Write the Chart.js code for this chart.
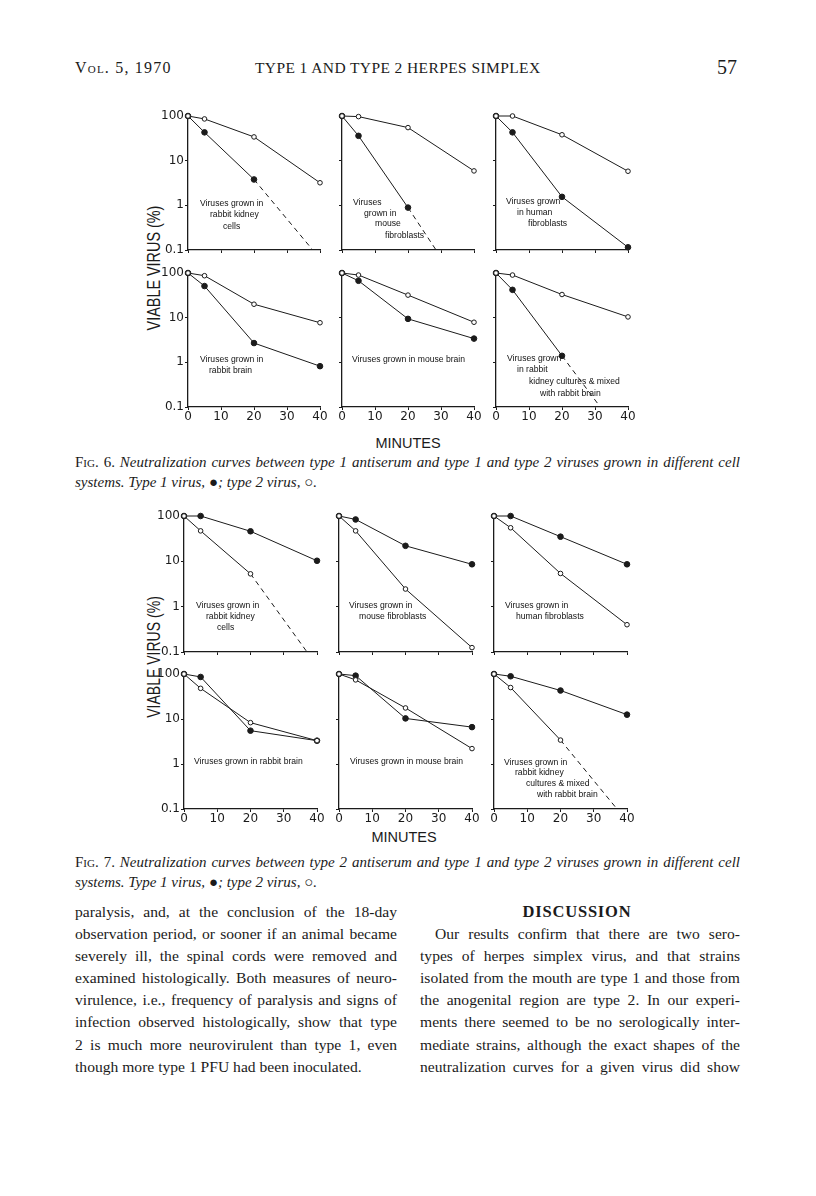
<!DOCTYPE html>
<html>
<head>
<meta charset="utf-8">
<script src="https://cdn.jsdelivr.net/npm/chart.js@4.4.0/dist/chart.umd.min.js"></script>
<style>
html, body { margin: 0; padding: 0; background: #fff; }
#page { position: relative; width: 816px; height: 1196px; background: #fff; color: #1b1b1b;
        font-family: "Liberation Serif", serif; overflow: hidden; }
#page canvas { position: absolute; }
.t { position: absolute; white-space: nowrap; }
.j { position: absolute; text-align: justify; text-align-last: justify; white-space: normal; }
.body { font-size: 15.6px; line-height: 22.1px; }
.cap { font-size: 15px; line-height: 20px; font-style: italic; }
.sc { font-style: normal; font-variant: small-caps; }
.axt { position: absolute; font-family: "Liberation Sans", sans-serif; white-space: nowrap; }
</style>
</head>
<body>
<div id="page">
  <div class="t" style="left:75px;top:59px;font-size:16px;letter-spacing:1.2px;font-variant:small-caps;">Vol. 5, 1970</div>
  <div class="t" style="left:255px;top:59px;font-size:15.5px;letter-spacing:0.4px;">TYPE 1 AND TYPE 2 HERPES SIMPLEX</div>
  <div class="t" style="left:717px;top:56px;font-size:20px;">57</div>

  <div class="axt" style="left:154px;top:268px;font-size:18px;transform:translate(-50%,-50%) rotate(-90deg) scaleX(0.8);">VIABLE VIRUS (%)</div>
  <div class="axt" style="left:154px;top:657px;font-size:18px;transform:translate(-50%,-50%) rotate(-90deg) scaleX(0.78);">VIABLE VIRUS (%)</div>
  <div class="axt" style="left:408px;top:443px;font-size:14.5px;transform:translate(-50%,-50%);">MINUTES</div>
  <div class="axt" style="left:404px;top:837px;font-size:14.5px;transform:translate(-50%,-50%);">MINUTES</div>

  <canvas id="f6a"></canvas><canvas id="f6b"></canvas><canvas id="f6c"></canvas>
  <canvas id="f6d"></canvas><canvas id="f6e"></canvas><canvas id="f6f"></canvas>
  <canvas id="f7a"></canvas><canvas id="f7b"></canvas><canvas id="f7c"></canvas>
  <canvas id="f7d"></canvas><canvas id="f7e"></canvas><canvas id="f7f"></canvas>

  <div class="j cap" style="left:75px;top:452px;width:665px;"><span class="sc">Fig.</span> <span style="font-style:normal">6.</span> Neutralization curves between type 1 antiserum and type 1 and type 2 viruses grown in different cell</div>
  <div class="t cap" style="left:75px;top:472px;">systems. Type 1 virus, <span style="font-style:normal">●</span>; type 2 virus, <span style="font-style:normal">○</span>.</div>

  <div class="j cap" style="left:75px;top:852px;width:665px;"><span class="sc">Fig.</span> <span style="font-style:normal">7.</span> Neutralization curves between type 2 antiserum and type 1 and type 2 viruses grown in different cell</div>
  <div class="t cap" style="left:75px;top:872px;">systems. Type 1 virus, <span style="font-style:normal">●</span>; type 2 virus, <span style="font-style:normal">○</span>.</div>

  <div class="body" style="position:absolute;left:75px;top:901px;width:322px;">
    <div class="j" style="position:relative;">paralysis, and, at the conclusion of the 18-day</div>
    <div class="j" style="position:relative;">observation period, or sooner if an animal became</div>
    <div class="j" style="position:relative;">severely ill, the spinal cords were removed and</div>
    <div class="j" style="position:relative;">examined histologically. Both measures of neuro-</div>
    <div class="j" style="position:relative;">virulence, i.e., frequency of paralysis and signs of</div>
    <div class="j" style="position:relative;">infection observed histologically, show that type</div>
    <div class="j" style="position:relative;">2 is much more neurovirulent than type 1, even</div>
    <div style="white-space:nowrap;">though more type 1 PFU had been inoculated.</div>
  </div>
  <div class="body" style="position:absolute;left:420px;top:901px;width:320px;">
    <div style="text-align:center;font-weight:bold;font-size:16.5px;letter-spacing:0.8px;margin-left:-6px;">DISCUSSION</div>
    <div class="j" style="position:relative;margin-left:15px;">Our results confirm that there are two sero-</div>
    <div class="j" style="position:relative;">types of herpes simplex virus, and that strains</div>
    <div class="j" style="position:relative;">isolated from the mouth are type 1 and those from</div>
    <div class="j" style="position:relative;">the anogenital region are type 2. In our experi-</div>
    <div class="j" style="position:relative;">ments there seemed to be no serologically inter-</div>
    <div class="j" style="position:relative;">mediate strains, although the exact shapes of the</div>
    <div class="j" style="position:relative;">neutralization curves for a given virus did show</div>
  </div>
</div>

<script>
// sampling times (minutes) and axis ticks
const minutes = [0, 5, 20, 40];
const yTicks = [0.1, 1, 10, 100];

// Fig. 6 - type 1 antiserum (viable virus, %)
const f6KidneyType1 = [100, 43, 3.8];
const f6KidneyType2 = [100, 86, 34, 3.2];
const f6KidneyDashMin = [20, 37.8];
const f6KidneyDashVal = [3.8, 0.1];

const f6MouseFibType1 = [100, 36, 0.89];
const f6MouseFibType2 = [100, 97, 55, 5.9];
const f6MouseFibDashMin = [20, 28.5];
const f6MouseFibDashVal = [0.89, 0.1];

const f6HumanFibType1 = [100, 43, 1.55, 0.115];
const f6HumanFibType2 = [100, 100, 38, 5.8];

const f6RabbitBrainType1 = [100, 51, 2.7, 0.82];
const f6RabbitBrainType2 = [100, 87, 20, 7.7];

const f6MouseBrainType1 = [100, 67, 9.4, 3.4];
const f6MouseBrainType2 = [100, 90, 32, 7.9];

const f6MixedType1 = [100, 42, 1.4];
const f6MixedType2 = [100, 90, 33, 10.4];
const f6MixedDashMin = [20, 31.6];
const f6MixedDashVal = [1.4, 0.1];

// Fig. 7 - type 2 antiserum
const f7KidneyType1 = [100, 100, 46, 10.3];
const f7KidneyType2 = [100, 47, 5.3];
const f7KidneyDashMin = [20, 37];
const f7KidneyDashVal = [5.3, 0.1];

const f7MouseFibType1 = [100, 84, 22, 8.6];
const f7MouseFibType2 = [100, 47, 2.45, 0.125];

const f7HumanFibType1 = [100, 100, 35, 8.6];
const f7HumanFibType2 = [100, 55, 5.4, 0.4];

const f7RabbitBrainType1 = [100, 86, 5.5, 3.3];
const f7RabbitBrainType2 = [100, 48, 8.3, 3.3];

const f7MouseBrainType1 = [100, 92, 10.3, 6.6];
const f7MouseBrainType2 = [100, 74, 17.6, 2.2];

const f7MixedType1 = [100, 89, 43, 12.5];
const f7MixedType2 = [100, 50, 3.4];
const f7MixedDashMin = [20, 37];
const f7MixedDashVal = [3.4, 0.1];

const ink = '#1b1b1b';
const AXW = 34, PADT = 8, PADR = 9;

// little captions written inside each panel
Chart.register({
    id: 'panelText',
    afterDatasetsDraw(chart, args, opts) {
        const ctx = chart.ctx, a = chart.chartArea;
        ctx.save();
        ctx.font = '8.6px "Liberation Sans"';
        ctx.fillStyle = '#111';
        ctx.textBaseline = 'middle';
        (opts.lines || []).forEach(l => ctx.fillText(l[2], a.left + l[0], a.top + l[1]));
        ctx.restore();
    }
});

function pts(xs, ys) {
    return ys.map((v, i) => ({ x: xs[i], y: v }));
}

function makePanel(p) {
    const cv = document.getElementById(p.id);
    const xH = p.xLabels ? 20 : 6;
    cv.width = AXW + p.w + PADR;
    cv.height = PADT + p.h + xH;
    cv.style.left = (p.x0 - AXW) + 'px';
    cv.style.top = (p.y100 - PADT) + 'px';

    const datasets = [
        { data: pts(minutes, p.t2), order: 0, showLine: true, borderColor: ink, borderWidth: 1,
          pointRadius: 2.3, pointBackgroundColor: '#fff', pointBorderColor: ink, pointBorderWidth: 1, clip: false },
        { data: pts(minutes, p.t1), order: 1, showLine: true, borderColor: ink, borderWidth: 1,
          pointRadius: 2.8, pointBackgroundColor: ink, pointBorderColor: ink, clip: false }
    ];
    if (p.dashMin) {
        datasets.push({ data: pts(p.dashMin, p.dashVal), order: 2, showLine: true, borderColor: ink,
          borderWidth: 1, borderDash: [5, 4], pointRadius: 0, clip: false });
    }

    const tickFont = { family: 'DejaVu Sans', size: 12 };
    new Chart(cv, {
        type: 'scatter',
        data: { datasets: datasets },
        options: {
            responsive: false,
            animation: false,
            events: [],
            layout: { padding: { top: PADT, right: PADR, left: 0, bottom: 0 } },
            plugins: {
                legend: { display: false },
                tooltip: { enabled: false },
                panelText: { lines: p.text }
            },
            scales: {
                x: {
                    type: 'linear', min: 0, max: 40,
                    ticks: { display: p.xLabels, stepSize: 10, color: ink, font: tickFont, padding: 0, maxRotation: 0 },
                    grid: { drawOnChartArea: false, drawTicks: true, tickLength: 3, color: ink },
                    border: { color: ink, width: 1.3 },
                    afterFit: s => { s.height = xH; s.paddingLeft = 0; s.paddingRight = 0; }
                },
                y: {
                    type: 'logarithmic', min: 0.1, max: 100,
                    afterBuildTicks: s => { s.ticks = yTicks.map(v => ({ value: v })); },
                    ticks: { display: p.yLabels, color: ink, font: tickFont, padding: 1,
                             callback: v => String(v) },
                    grid: { drawOnChartArea: false, drawTicks: true, tickLength: 3, color: ink },
                    border: { color: ink, width: 1.3 },
                    afterFit: s => { s.width = AXW; s.paddingTop = 0; s.paddingBottom = 0; }
                }
            }
        }
    });
}

const panels = [
    { id: 'f6a', x0: 188, y100: 116, w: 132, h: 134, yLabels: true, xLabels: false,
      t1: f6KidneyType1, t2: f6KidneyType2, dashMin: f6KidneyDashMin, dashVal: f6KidneyDashVal,
      text: [[12, 88, 'Viruses grown in'], [22, 99, 'rabbit kidney'], [35, 111, 'cells']] },
    { id: 'f6b', x0: 342, y100: 116, w: 132, h: 134, yLabels: false, xLabels: false,
      t1: f6MouseFibType1, t2: f6MouseFibType2, dashMin: f6MouseFibDashMin, dashVal: f6MouseFibDashVal,
      text: [[11, 87, 'Viruses'], [22, 98, 'grown in'], [33, 108, 'mouse'], [43, 120, 'fibroblasts']] },
    { id: 'f6c', x0: 496, y100: 116, w: 132, h: 134, yLabels: false, xLabels: false,
      t1: f6HumanFibType1, t2: f6HumanFibType2,
      text: [[10, 86, 'Viruses grown'], [21, 97, 'in human'], [32, 108, 'fibroblasts']] },
    { id: 'f6d', x0: 188, y100: 273, w: 132, h: 134, yLabels: true, xLabels: true,
      t1: f6RabbitBrainType1, t2: f6RabbitBrainType2,
      text: [[12, 87, 'Viruses grown in'], [21, 98, 'rabbit brain']] },
    { id: 'f6e', x0: 342, y100: 273, w: 132, h: 134, yLabels: false, xLabels: true,
      t1: f6MouseBrainType1, t2: f6MouseBrainType2,
      text: [[10, 87, 'Viruses grown in mouse brain']] },
    { id: 'f6f', x0: 496, y100: 273, w: 132, h: 134, yLabels: false, xLabels: true,
      t1: f6MixedType1, t2: f6MixedType2, dashMin: f6MixedDashMin, dashVal: f6MixedDashVal,
      text: [[11, 86, 'Viruses grown'], [21, 97, 'in rabbit'], [33, 109, 'kidney cultures & mixed'], [44, 121, 'with rabbit brain']] },

    { id: 'f7a', x0: 184, y100: 516, w: 133, h: 136, yLabels: true, xLabels: false,
      t1: f7KidneyType1, t2: f7KidneyType2, dashMin: f7KidneyDashMin, dashVal: f7KidneyDashVal,
      text: [[12, 90, 'Viruses grown in'], [22, 101, 'rabbit kidney'], [33, 112, 'cells']] },
    { id: 'f7b', x0: 339, y100: 516, w: 133, h: 136, yLabels: false, xLabels: false,
      t1: f7MouseFibType1, t2: f7MouseFibType2,
      text: [[10, 90, 'Viruses grown in'], [20, 101, 'mouse fibroblasts']] },
    { id: 'f7c', x0: 494, y100: 516, w: 133, h: 136, yLabels: false, xLabels: false,
      t1: f7HumanFibType1, t2: f7HumanFibType2,
      text: [[11, 90, 'Viruses grown in'], [22, 101, 'human fibroblasts']] },
    { id: 'f7d', x0: 184, y100: 674, w: 133, h: 135, yLabels: true, xLabels: true,
      t1: f7RabbitBrainType1, t2: f7RabbitBrainType2,
      text: [[10, 88, 'Viruses grown in rabbit brain']] },
    { id: 'f7e', x0: 339, y100: 674, w: 133, h: 135, yLabels: false, xLabels: true,
      t1: f7MouseBrainType1, t2: f7MouseBrainType2,
      text: [[11, 88, 'Viruses grown in mouse brain']] },
    { id: 'f7f', x0: 494, y100: 674, w: 133, h: 135, yLabels: false, xLabels: true,
      t1: f7MixedType1, t2: f7MixedType2, dashMin: f7MixedDashMin, dashVal: f7MixedDashVal,
      text: [[10, 89, 'Viruses grown in'], [21, 99, 'rabbit kidney'], [32, 110, 'cultures & mixed'], [43, 121, 'with rabbit brain']] }
];

panels.forEach(makePanel);
</script>
</body>
</html>
